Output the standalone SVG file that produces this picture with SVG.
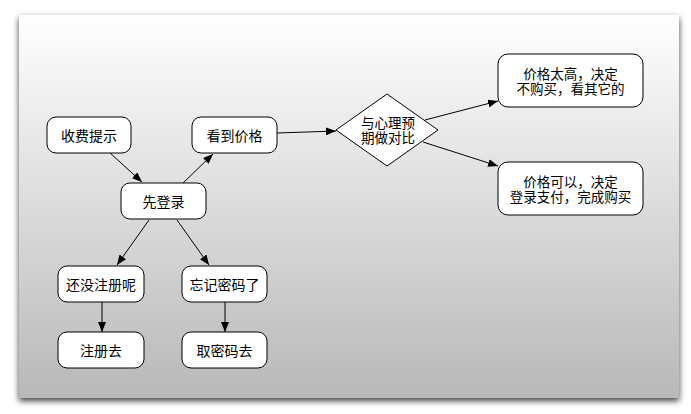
<svg xmlns="http://www.w3.org/2000/svg" width="691" height="414" viewBox="0 0 691 414">
<defs>
<linearGradient id="bg" x1="0" y1="0" x2="0" y2="1">
<stop offset="0" stop-color="#ffffff"/>
<stop offset="1" stop-color="#b8b8b8"/>
</linearGradient>
<filter id="sh" x="-5%" y="-5%" width="110%" height="115%">
<feDropShadow dx="0" dy="3" stdDeviation="3" flood-color="#000" flood-opacity="0.75"/>
</filter>
<marker id="ah" markerUnits="userSpaceOnUse" markerWidth="10" markerHeight="8" refX="10" refY="4" orient="auto">
<path d="M0,0 L10,4 L0,8 z" fill="#000"/>
</marker>
<style>
.n rect{fill:#fff;stroke:#000;stroke-width:1}
.n polygon{fill:#fff;stroke:#000;stroke-width:1}
text{font-family:"Noto Sans CJK SC","Noto Sans",sans-serif;font-size:14px;fill:#000;text-anchor:middle;dominant-baseline:central}
text.m{font-family:"Liberation Sans","Noto Sans CJK SC",sans-serif;font-size:13.5px;dominant-baseline:auto}
.c line{stroke:#000;stroke-width:1;marker-end:url(#ah)}
</style>
</defs>
<rect width="691" height="414" fill="#fff"/>
<rect x="19" y="15" width="660" height="383" fill="url(#bg)" filter="url(#sh)"/>
<g class="c" id="connectors">
<line x1="110" y1="153" x2="142" y2="182"/>
<line x1="183" y1="183" x2="213" y2="154"/>
<line x1="277" y1="133" x2="336" y2="131"/>
<line x1="425" y1="120" x2="498" y2="101"/>
<line x1="423" y1="142" x2="498" y2="166"/>
<line x1="149" y1="220" x2="117" y2="265"/>
<line x1="177" y1="220" x2="209" y2="265"/>
<line x1="102" y1="302" x2="102" y2="332"/>
<line x1="225" y1="302" x2="225" y2="332"/>
</g>
<g class="n" id="n_fee"><rect x="47" y="117" width="84" height="36" rx="9"/><text x="89" y="135">收费提示</text></g>
<g class="n" id="n_price"><rect x="192" y="117" width="85" height="36" rx="9"/><text x="234.5" y="135">看到价格</text></g>
<g class="n" id="n_login"><rect x="121" y="183" width="85" height="36" rx="9"/><text x="163.5" y="201">先登录</text></g>
<g class="n" id="n_noreg"><rect x="58" y="266" width="86" height="36" rx="9"/><text x="101" y="284">还没注册呢</text></g>
<g class="n" id="n_forgot"><rect x="182" y="266" width="85" height="36" rx="9"/><text x="224.5" y="284">忘记密码了</text></g>
<g class="n" id="n_reg"><rect x="58" y="332" width="86" height="36" rx="9"/><text x="101" y="350">注册去</text></g>
<g class="n" id="n_getpw"><rect x="182" y="332" width="85" height="36" rx="9"/><text x="224.5" y="350">取密码去</text></g>
<g class="n" id="n_cmp"><polygon points="387,94 438,130 387,166 336,130"/><text class="m" x="388" y="127.5">与心理预</text><text class="m" x="388" y="142.5">期做对比</text></g>
<g class="n" id="n_high"><rect x="498" y="54" width="145" height="53" rx="10"/><text class="m" x="570.5" y="78.5">价格太高，决定</text><text class="m" x="570.5" y="93.5">不购买，看其它的</text></g>
<g class="n" id="n_ok"><rect x="498" y="162" width="145" height="53" rx="10"/><text class="m" x="570.5" y="186.5">价格可以，决定</text><text class="m" x="570.5" y="201.5">登录支付，完成购买</text></g>
</svg>
